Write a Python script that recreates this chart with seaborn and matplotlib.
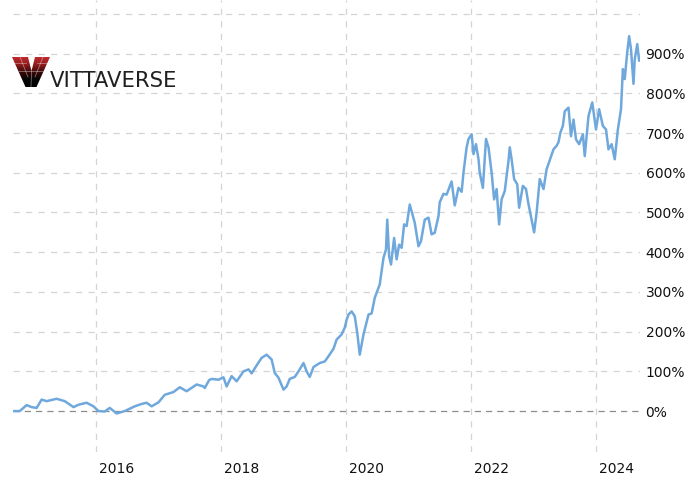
import numpy as np
import pandas as pd
import matplotlib.pyplot as plt
import matplotlib.transforms as mtransforms
from matplotlib.patches import Polygon
from matplotlib.colors import LinearSegmentedColormap
import seaborn as sns

# ── Data (cumulative return, %) ────────────────────────────────────────
years = [
    2014.68, 2014.78, 2014.89, 2014.97, 2015.05, 2015.13, 2015.21, 2015.37,
    2015.50, 2015.64, 2015.72, 2015.85, 2015.96, 2016.04, 2016.14, 2016.22,
    2016.33, 2016.46, 2016.62, 2016.73, 2016.81, 2016.89, 2017.00, 2017.10,
    2017.24, 2017.34, 2017.45, 2017.61, 2017.72, 2017.74, 2017.81, 2017.85,
    2017.96, 2018.04, 2018.09, 2018.17, 2018.25, 2018.36, 2018.44, 2018.49,
    2018.57, 2018.65, 2018.73, 2018.81, 2018.86, 2018.92, 2019.00, 2019.05,
    2019.10, 2019.18, 2019.24, 2019.32, 2019.37, 2019.42, 2019.48, 2019.58,
    2019.66, 2019.72, 2019.80, 2019.85, 2019.93, 2019.98, 2020.01, 2020.04,
    2020.09, 2020.14, 2020.18, 2020.22, 2020.28, 2020.36, 2020.41, 2020.46,
    2020.54, 2020.60, 2020.64, 2020.66, 2020.69, 2020.72, 2020.77, 2020.81,
    2020.85, 2020.89, 2020.93, 2020.97, 2021.02, 2021.07, 2021.10, 2021.16,
    2021.20, 2021.26, 2021.32, 2021.37, 2021.42, 2021.48, 2021.50, 2021.56,
    2021.61, 2021.69, 2021.74, 2021.80, 2021.85, 2021.88, 2021.93, 2021.96,
    2022.01, 2022.04, 2022.08, 2022.12, 2022.14, 2022.19, 2022.24, 2022.28,
    2022.33, 2022.37, 2022.41, 2022.45, 2022.49, 2022.54, 2022.60, 2022.62,
    2022.65, 2022.69, 2022.74, 2022.77, 2022.83, 2022.88, 2022.92, 2022.97,
    2023.01, 2023.05, 2023.10, 2023.16, 2023.21, 2023.26, 2023.32, 2023.37,
    2023.40, 2023.43, 2023.47, 2023.50, 2023.56, 2023.60, 2023.64, 2023.68,
    2023.73, 2023.79, 2023.82, 2023.88, 2023.94, 2024.00, 2024.05, 2024.11,
    2024.16, 2024.20, 2024.25, 2024.30, 2024.35, 2024.40, 2024.43, 2024.46,
    2024.50, 2024.53, 2024.56, 2024.60, 2024.62, 2024.66, 2024.69,
]
returns = [
    0, 0, 15, 10, 8, 29, 25, 31,
    25, 10, 16, 21, 12, 0, -1, 8,
    -6, 0, 12, 18, 21, 12, 22, 41,
    48, 60, 50, 67, 62, 58, 78, 81,
    79, 85, 62, 88, 75, 100, 105, 95,
    115, 134, 142, 130, 96, 84, 54, 62,
    81, 86, 100, 121, 100, 86, 111, 121,
    125, 138, 157, 180, 193, 210, 230, 243,
    251, 239, 197, 142, 193, 243, 246, 285,
    319, 386, 407, 482, 390, 369, 436, 382,
    419, 411, 470, 466, 520, 491, 474, 415,
    428, 482, 487, 445, 449, 491, 526, 547,
    545, 578, 518, 562, 552, 601, 664, 685,
    697, 647, 672, 634, 600, 562, 685, 664,
    600, 533, 559, 470, 533, 554, 630, 664,
    634, 584, 571, 512, 567, 559, 521, 482,
    450, 500, 584, 559, 609, 632, 659, 668,
    677, 701, 718, 755, 764, 692, 734, 684,
    672, 697, 642, 743, 777, 709, 760, 718,
    709, 659, 672, 634, 709, 760, 861, 836,
    904, 944, 911, 824, 886, 924, 882,
]
xtick_years = [2016, 2018, 2020, 2022, 2024]
ytick_vals = list(range(0, 1001, 100))
ytick_labels = [f"{v}%" for v in ytick_vals[:-1]] + [""]


def to_date(y):
    return pd.Timestamp("2014-01-01") + pd.to_timedelta((y - 2014) * 365.25, unit="D")


df = pd.DataFrame({"date": [to_date(y) for y in years], "ret": returns})

# ── Plot ──────────────────────────────────────────────────────
sns.set_style("white")
plt.rcParams["font.family"] = ["DejaVu Sans"]

fig = plt.figure(figsize=(6.94, 4.8), dpi=100)
ax = fig.add_axes([13 / 694, 28 / 480, 627 / 694, 452 / 480])

for v in ytick_vals[1:]:
    ax.axhline(v, color="#d4d4d4", lw=0.9, ls=(0, (5, 5)), zorder=0)
ax.axhline(0, color="#8c8c8c", lw=0.9, ls=(0, (5, 4)), zorder=1)
for yr in xtick_years:
    ax.axvline(to_date(yr), color="#d4d4d4", lw=0.9, ls=(0, (5, 5)), zorder=0)

sns.lineplot(data=df, x="date", y="ret", ax=ax, color="#6fa8dc", lw=1.8)

ax.set_xlim(to_date(2014.672), to_date(2024.704))
ax.set_ylim(-103, 1035)
ax.set_xticks([to_date(y) for y in xtick_years])
ax.set_xticklabels([str(y) for y in xtick_years], fontsize=10, color="#111111")
ax.set_yticks(ytick_vals)
ax.set_yticklabels(ytick_labels, fontsize=10, color="#111111")
ax.yaxis.tick_right()
ax.tick_params(axis="both", length=0)
ax.tick_params(axis="x", pad=7)
ax.tick_params(axis="y", pad=4)
ax.set_xlabel("")
ax.set_ylabel("")
sns.despine(ax=ax, left=True, bottom=True, right=True, top=True)

# year labels start just right of their gridline
offset = mtransforms.ScaledTranslation(3 / 100, 0, fig.dpi_scale_trans)
for lab in ax.get_xticklabels():
    lab.set_horizontalalignment("left")
    lab.set_transform(lab.get_transform() + offset)

# ── Watermark logo ────────────────────────────────────────────
lax = fig.add_axes([12 / 694, (480 - 87) / 480, 38 / 694, 30 / 480])
lax.axis("off")
grad = np.linspace(0, 1, 100).reshape(-1, 1)
cmap = LinearSegmentedColormap.from_list(
    "logo", ["#c22a2e", "#8e1a1c", "#3a0808", "#050505", "#000000"])
img = lax.imshow(grad, cmap=cmap, extent=(0, 38, 30, 0), aspect="auto")
lax.set_xlim(0, 38)
lax.set_ylim(30, 0)
vshape = Polygon([(0, 0), (16, 0), (19.5, 14), (23, 0), (38, 0), (24.5, 30), (13.5, 30)],
                 closed=True, transform=lax.transData, facecolor="none", edgecolor="none")
lax.add_patch(vshape)
img.set_clip_path(vshape)
for seg in [[(19.5, 14), (19, 30)], [(8, 0), (16, 20)], [(31, 0), (23, 20)],
            [(2, 6), (14, 6)], [(25, 6), (36, 6)], [(6, 14), (32, 14)]]:
    xs, ys = zip(*seg)
    lax.plot(xs, ys, color="white", lw=0.5, alpha=0.5, clip_path=vshape)

fig.text(50 / 694, 1 - 87 / 480, "VITTAVERSE", fontsize=15.2, family="DejaVu Sans",
         color="#202020", ha="left", va="baseline")

fig.savefig("out.png", dpi=100)
